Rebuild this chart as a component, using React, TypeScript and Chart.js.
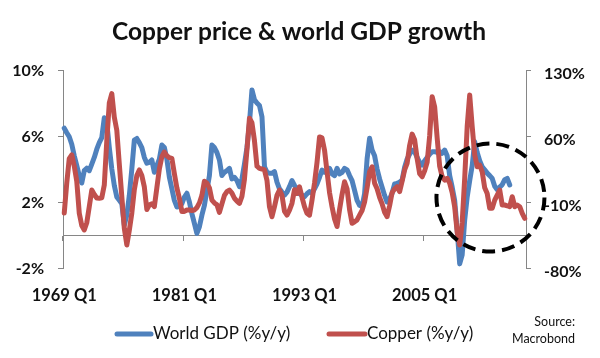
import React, { useEffect, useRef } from 'react';
import { Chart, registerables } from 'chart.js';

Chart.register(...registerables);

// ---------- data ----------
const START_YEAR = 1969;
const QUARTER_COUNT = 185;
const quarters: string[] = [];
for (let i = 0; i < QUARTER_COUNT; i++) {
  quarters.push(`${START_YEAR + Math.floor(i / 4)} Q${(i % 4) + 1}`);
}

const xTickLabels = ['1969 Q1', '1981 Q1', '1993 Q1', '2005 Q1'];
const leftTicks = [-2, 2, 6, 10];
const rightTicks = [-80, -10, 60, 130];

// World GDP, % y/y (left axis), 1969 Q1 onwards
const worldGdp = [
  6.47, 6.2, 5.95, 5.5, 4.8, 4.2, 3.6, 3.15, 3.9, 4.05,
  3.9, 4.3, 4.7, 5.2, 5.6, 5.9, 7.1, 6.8, 5.3, 4.0,
  3.0, 2.3, 2.1, 1.9, 0.6, 1.2, 2.4, 4.0, 5.75, 5.85,
  5.6, 5.3, 4.7, 4.35, 4.4, 4.55, 3.8, 4.2, 4.6, 5.45,
  5.3, 4.6, 3.5, 2.8, 2.1, 1.7, 1.72, 1.9, 2.3, 2.53,
  2.0, 1.3, 0.7, 0.1, 0.5, 1.2, 1.8, 2.7, 3.6, 5.45,
  5.3, 5.0, 4.55, 3.6, 3.8, 3.9, 4.04, 3.4, 3.5, 3.3,
  2.93, 3.4, 4.3, 5.3, 6.77, 8.79, 8.2, 8.0, 7.85, 7.17,
  4.14, 3.8, 3.74, 3.74, 3.84, 3.2, 2.8, 2.6, 2.42, 2.6,
  2.93, 3.3, 3.0, 2.8, 2.5, 2.42, 2.32, 2.5, 2.63, 2.53,
  2.8, 3.1, 3.5, 3.94, 3.8, 3.9, 4.04, 3.7, 3.6, 4.04,
  3.7, 3.8, 4.04, 3.95, 3.6, 3.3, 2.7, 2.1, 1.8, 1.72,
  2.5, 4.6, 5.86, 5.15, 4.8, 4.0, 3.4, 2.9, 2.4, 2.0,
  2.2, 2.53, 3.1, 3.13, 3.2, 3.33, 4.1, 4.6, 4.9, 5.15,
  5.05, 4.7, 4.4, 4.24, 4.5, 4.7, 4.9, 5.05, 5.05, 5.0,
  5.05, 4.95, 5.15, 4.8, 3.6, 2.9, 2.1, 0.3, -1.75, -1.2,
  0.9, 2.3, 3.3, 4.2, 5.65, 5.0, 4.5, 4.14, 3.95, 3.75,
  3.6, 3.43, 2.95, 2.75, 2.9, 3.05, 3.35, 3.43, 3.03,
];

// Copper price, % y/y (right axis), 1969 Q1 onwards
const copper = [
  -21.7, 10, 36, 40, 28, 12, -22, -35, -39.7, -32,
  -15, 2.7, -2, -5.8, -6, -5.5, 8, 55, 95, 105,
  80, 66, 30, -4.4, -38, -55.6, -40, -21.7, 3, 18,
  24, 18, 6, -18, -13, -12, -15, 5, 25, 38,
  43, 39, 37, 36.3, 20, 5, -6, -20, -20, -18.5,
  -18.5, -19, -18.5, -16, -11, -3, 12, 10, 5, -8,
  -11, -13, -21, -12, -3, 1, 2.7, -0.5, -6, -9,
  -11.4, -4, 14, 45, 78.8, 74, 55, 28, 25.7, 25,
  24, 13, -15, -25.6, -15, -3, 2.7, -3, -20, -23.8,
  -18.5, -11.4, 3, -0.8, 6.2, -5, -15, -22, -24, -8,
  10, 32, 59, 58, 45, 22, 0, -15, -28, -36,
  -18, -2, 11.5, 4, -18, -32.6, -31, -29, -24, -19,
  -10, 5, 22, 27.4, 10, 4, -5, -12, -21, -25.6,
  -14, 0, 4, 6.2, 1, 12, 24, 31, 50, 62,
  56, 36, 20, 16.8, 23, 32, 60, 101.7, 91, 58,
  28, 17, 13.3, 15, 10, 0, -15, -42, -55.6, -32,
  15, 70, 103.5, 70, 40, 27.4, 29.2, 22, 5, -1,
  -16.7, -16.7, -8, -2.6, 2.7, -13.2, -13.2, -14, -15, -4.4,
  -15, -13.2, -15, -22, -27.3,
];

const TITLE = 'Copper price & world GDP growth';
const SERIES_NAMES = ['World GDP (%y/y)', 'Copper (%y/y)'];
const SOURCE_LINES = ['Source:', 'Macrobond'];

// highlight circle anchored on data coordinates (quarter index, left-axis value)
const CIRCLE_QUARTER = 170.3;
const CIRCLE_VALUE = 2.27;
const CIRCLE_RADIUS = 54;

// ---------- styles ----------
const BLUE = '#4F81BD';
const RED = '#C0504D';
const AXIS = '#868686';
const TEXT = '#111111';
const FONT = 'Lato';

const decorPlugin = {
  id: 'decor',
  afterDatasetsDraw(chart: any) {
    const { ctx, scales } = chart;
    const cx = scales.x.getPixelForValue(CIRCLE_QUARTER);
    const cy = scales.y.getPixelForValue(CIRCLE_VALUE);
    ctx.save();
    ctx.beginPath();
    ctx.setLineDash([13, 7]);
    ctx.lineWidth = 4;
    ctx.strokeStyle = '#000';
    ctx.arc(cx, cy, CIRCLE_RADIUS, 0, Math.PI * 2);
    ctx.stroke();
    ctx.restore();
  },
  afterDraw(chart: any) {
    const { ctx } = chart;
    ctx.save();
    // title
    ctx.fillStyle = TEXT;
    ctx.font = `bold 24.5px ${FONT}`;
    ctx.textAlign = 'center';
    ctx.textBaseline = 'alphabetic';
    ctx.fillText(TITLE, 299, 40);

    // legend
    const legendY = 334;
    const items = [
      { color: BLUE, x0: 117, x1: 151, text: SERIES_NAMES[0] },
      { color: RED, x0: 329, x1: 365, text: SERIES_NAMES[1] },
    ];
    ctx.lineCap = 'round';
    items.forEach((it) => {
      ctx.beginPath();
      ctx.strokeStyle = it.color;
      ctx.lineWidth = 5;
      ctx.moveTo(it.x0, legendY);
      ctx.lineTo(it.x1, legendY);
      ctx.stroke();
      ctx.fillStyle = TEXT;
      ctx.font = `17px ${FONT}`;
      ctx.textAlign = 'left';
      ctx.textBaseline = 'middle';
      ctx.fillText(it.text, it.x1 + 2, legendY);
    });

    // source
    ctx.font = `12.5px ${FONT}`;
    ctx.textAlign = 'right';
    ctx.textBaseline = 'middle';
    ctx.fillText(SOURCE_LINES[0], 575, 322);
    ctx.fillText(SOURCE_LINES[1], 575, 339);
    ctx.restore();
  },
};

export default function App() {
  const ref = useRef<HTMLCanvasElement | null>(null);

  useEffect(() => {
    if (!ref.current) return;
    Chart.defaults.font.family = FONT;
    const chart = new Chart(ref.current, {
      type: 'line',
      data: {
        labels: quarters,
        datasets: [
          {
            label: SERIES_NAMES[0],
            data: worldGdp,
            yAxisID: 'y',
            borderColor: BLUE,
            backgroundColor: BLUE,
            borderWidth: 5,
            pointRadius: 0,
            tension: 0,
            borderJoinStyle: 'round',
            borderCapStyle: 'round',
            order: 1,
          },
          {
            label: SERIES_NAMES[1],
            data: copper,
            yAxisID: 'y1',
            borderColor: RED,
            backgroundColor: RED,
            borderWidth: 5,
            pointRadius: 0,
            tension: 0,
            borderJoinStyle: 'round',
            borderCapStyle: 'round',
            order: 0,
          },
        ],
      },
      options: {
        responsive: false,
        animation: false,
        layout: { padding: { top: 70, bottom: 90, left: 0, right: 0 } },
        plugins: {
          legend: { display: false },
          title: { display: false },
          tooltip: { enabled: false },
        },
        scales: {
          x: {
            type: 'category',
            offset: true,
            position: { y: 0 } as any,
            afterFit: (s: any) => {
              s.paddingLeft = 0;
              s.paddingRight = 0;
              s.paddingTop = 0;
              s.paddingBottom = 0;
            },
            grid: {
              display: true,
              offset: true,
              drawOnChartArea: false,
              drawTicks: true,
              tickLength: 5,
              tickColor: (c: any) => (c.index % 48 === 0 ? AXIS : 'rgba(0,0,0,0)'),
            },
            border: { display: true, color: AXIS, width: 1 },
            ticks: {
              autoSkip: false,
              maxRotation: 0,
              minRotation: 0,
              padding: 46,
              color: TEXT,
              font: { size: 16.5, weight: 'bold', family: FONT },
              callback: (_v: any, i: number) =>
                xTickLabels.includes(quarters[i]) ? quarters[i] : '',
            },
          },
          y: {
            type: 'linear',
            position: 'left',
            min: -2,
            max: 10,
            afterBuildTicks: (s: any) => {
              s.ticks = leftTicks.map((v) => ({ value: v }));
            },
            afterFit: (s: any) => {
              s.width = 63;
            },
            grid: { drawOnChartArea: false, drawTicks: true, tickLength: 5, tickColor: AXIS },
            border: { display: true, color: AXIS, width: 1 },
            ticks: {
              padding: 14,
              labelOffset: 1,
              color: TEXT,
              font: { size: 16, weight: 'bold', family: FONT },
              callback: (v: any) => `${v}%`,
            },
          },
          y1: {
            type: 'linear',
            position: 'right',
            min: -80,
            max: 130,
            afterBuildTicks: (s: any) => {
              s.ticks = rightTicks.map((v) => ({ value: v }));
            },
            afterFit: (s: any) => {
              s.width = 74;
            },
            grid: { drawOnChartArea: false, drawTicks: true, tickLength: 5, tickColor: AXIS },
            border: { display: true, color: AXIS, width: 1 },
            ticks: {
              padding: 13,
              labelOffset: 4,
              color: TEXT,
              font: { size: 16, weight: 'bold', family: FONT },
              callback: (v: any) => `${v}%`,
            },
          },
        },
      },
      plugins: [decorPlugin],
    } as any);
    return () => chart.destroy();
  }, []);

  return (
    <div style={{ position: 'absolute', left: 0, top: 0, width: 600, height: 358, background: '#fff' }}>
      <canvas ref={ref} width={600} height={358} style={{ display: 'block' }} />
    </div>
  );
}
